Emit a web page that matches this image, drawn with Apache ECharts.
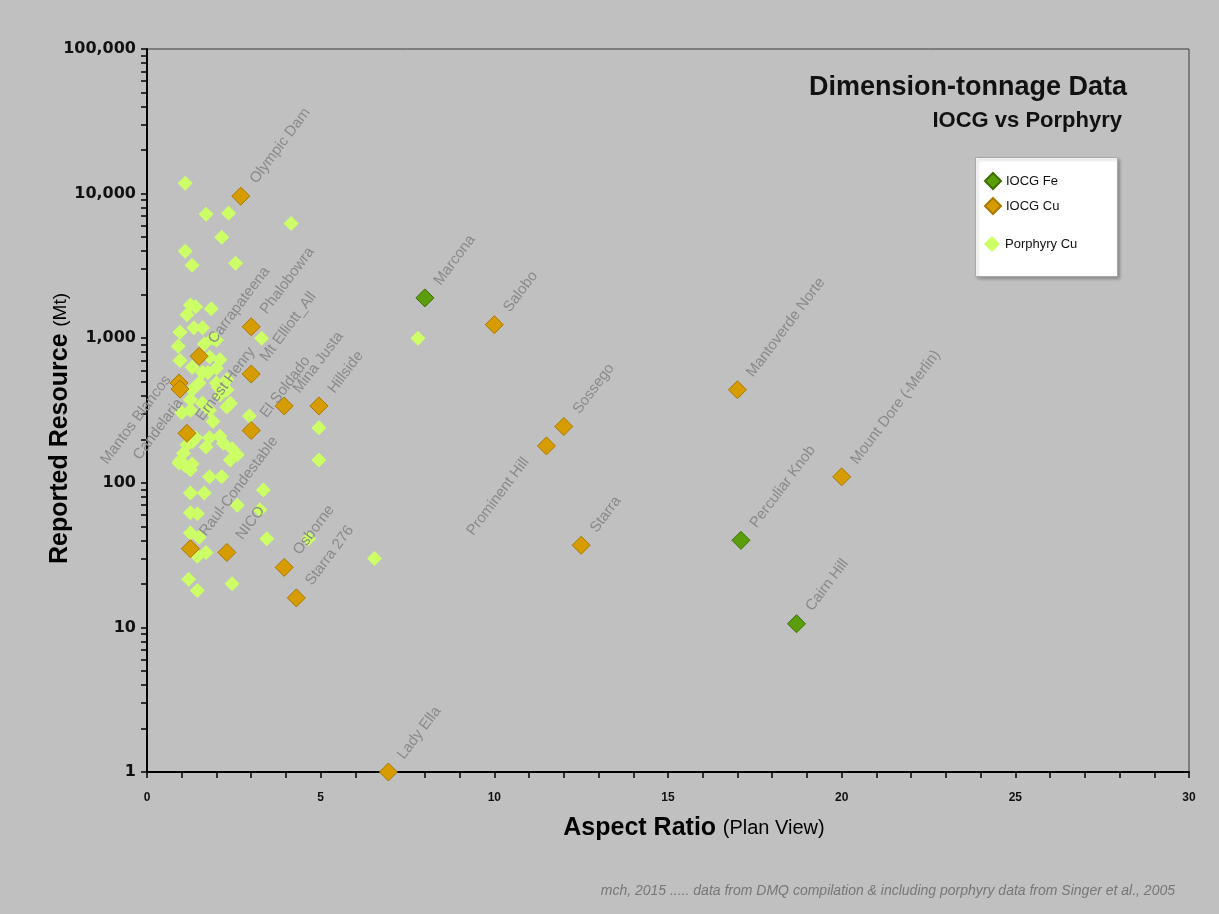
<!DOCTYPE html>
<html><head><meta charset="utf-8">
<script src="https://cdn.jsdelivr.net/npm/echarts@6/dist/echarts.min.js"></script>
<style>html,body{margin:0;padding:0;background:#c0c0c0}#c{width:1219px;height:914px}</style>
</head><body><div id="c"></div>
<script>
// ---- data ----
const xTickValues = [0,5,10,15,20,25,30];
const yTickValues = [1,10,100,1000,10000,100000];
const iocgFe = [[8,1900,'Marcona'],[17.1,40,'Perculiar Knob'],[18.7,10.6,'Cairn Hill']];
const iocgCu = [
  [2.7,9600,'Olympic Dam'],[3,1200,'Phalobowra'],[1.5,750,'Carrapateena'],[3,565,'Mt Elliott_All'],
  [0.92,490,'Mantos Blancos'],[0.95,445,'Candelaria'],[1.15,220,'Ernest Henry'],[3,230,'El Soldado'],
  [3.95,340,'Mina Justa'],[4.95,340,'Hillside'],[1.25,35,'Raul-Condestable'],[2.3,33,'NICO'],
  [3.95,26,'Osborne'],[4.3,16,'Starra 276'],[6.95,1,'Lady Ella'],[10,1240,'Salobo'],
  [11.5,180,'Prominent Hill'],[12,245,'Sossego'],[12.5,37,'Starra'],[17,440,'Mantoverde Norte'],
  [20,110,'Mount Dore (-Merlin)']
];
const leftLabelled = ['Prominent Hill','Mantos Blancos','Candelaria'];
const porphyryCu = [
  [1.1,11800],[1.7,7200],[2.35,7300],[4.15,6200],[2.15,5000],[1.1,4000],[1.3,3200],[2.55,3300],
  [1.25,1700],[1.15,1450],[1.4,1650],[1.85,1600],[0.95,1100],[1.35,1180],[1.6,1180],[1.9,1000],
  [3.3,1000],[7.8,1000],[0.9,880],[1.65,910],[2.0,970],[0.95,700],[1.8,740],[2.1,710],
  [1.3,630],[1.6,580],[2.0,620],[1.75,580],[1.5,490],[2.05,460],[2.3,440],[1.3,440],
  [2.3,515],[2.0,490],[1.25,375],[2.1,405],[2.4,355],[1.6,355],[1.0,305],[1.25,318],
  [1.8,318],[2.3,335],[1.9,265],[2.95,290],[1.4,205],[1.8,205],[2.1,210],[1.15,183],
  [1.7,177],[2.2,188],[2.45,172],[1.3,192],[1.05,160],[2.6,156],[0.95,142],[1.3,135],
  [2.4,144],[0.92,137],[1.1,131],[1.25,123],[1.8,110],[2.15,110],[1.25,85],[1.65,85],
  [3.35,89],[2.6,70],[3.25,65],[1.25,62],[1.45,61],[1.25,45],[1.5,42],[3.45,41],
  [4.65,41],[1.7,33],[1.45,31],[6.55,30],[1.2,21.5],[1.45,18],[2.45,20],[4.95,240],[4.95,144]
];
// ---- chart ----
const FONT = '"Liberation Sans", Arial, sans-serif';
const yMinor = [];
yTickValues.forEach(function(d, i){ if (i < yTickValues.length - 1) { for (let k = 1; k < 10; k++) yMinor.push(d * k); } else yMinor.push(d); });
const xMinor = [];
for (let v = xTickValues[0]; v <= xTickValues[xTickValues.length-1]; v++) xMinor.push(v);

function labelled(arr){
  return arr.map(function(p){
    const left = leftLabelled.indexOf(p[2]) >= 0;
    let off = left ? [-16, 1] : [12, -8];
    if (p[2] === 'Mantos Blancos') off = [5, -3];
    if (p[2] === 'Candelaria') off = [-2, 16];
    return {
      value: [p[0], p[1]], name: p[2],
      label: { show: true, formatter: p[2], position: left ? 'left' : 'right', distance: 2, rotate: 53,
        offset: off, color: '#8a8a8a', fontSize: 15, fontFamily: FONT }
    };
  });
}
const chart = echarts.init(document.getElementById('c'));
chart.setOption({
  backgroundColor: '#c0c0c0',
  animation: false,
  title: [
    { text: 'Dimension-tonnage Data', right: 87, top: 69, textStyle: { fontFamily: FONT, fontSize: 27, fontWeight: 'bold', color: '#111' } },
    { text: 'IOCG vs Porphyry', right: 92, top: 105, textStyle: { fontFamily: FONT, fontSize: 22, fontWeight: 'bold', color: '#111' } },
    { text: 'mch, 2015 ..... data from DMQ compilation & including porphyry data from Singer et al., 2005', right: 39, top: 879,
      textStyle: { fontFamily: FONT, fontSize: 14, fontStyle: 'italic', fontWeight: 'normal', color: '#777' } }
  ],
  graphic: [{ type: 'rect', left: 975, top: 157, shape: { width: 142, height: 119 }, z: 0,
    style: { fill: '#ffffff', stroke: '#a8a8a8', lineWidth: 1, shadowBlur: 3, shadowOffsetX: 2, shadowOffsetY: 2, shadowColor: 'rgba(0,0,0,0.25)' } }],
  legend: [
    { data: ['IOCG Fe', 'IOCG Cu'], orient: 'vertical', left: 979, top: 167, itemWidth: 16, itemHeight: 16, itemGap: 7, z: 5,
      textStyle: { fontFamily: FONT, fontSize: 13, color: '#111' } },
    { data: ['Porphyry Cu'], orient: 'vertical', left: 979, top: 231, itemWidth: 16, itemHeight: 16, z: 5,
      textStyle: { fontFamily: FONT, fontSize: 13, color: '#111' } }
  ],
  grid: { left: 147, right: 30, top: 49, bottom: 142, show: true, borderColor: '#3a3a3a', borderWidth: 1, backgroundColor: 'transparent' },
  xAxis: {
    type: 'value', min: 0, max: 30, interval: 5,
    axisLine: { lineStyle: { color: '#000', width: 2 } },
    axisTick: { show: true, length: 6, customValues: xMinor, lineStyle: { color: '#000', width: 1.5 } },
    axisLabel: { customValues: xTickValues, margin: 20, fontFamily: FONT, fontSize: 12, fontWeight: 'bold', color: '#111' },
    splitLine: { show: false },
    name: '{a|Aspect Ratio}  {b|(Plan View)}', nameLocation: 'middle', nameGap: 44, nameMoveOverlap: false,
    nameTextStyle: { padding: [0, 0, 0, 52], rich: { a: { fontFamily: FONT, fontSize: 25, fontWeight: 'bold', color: '#000' }, b: { fontFamily: FONT, fontSize: 20, color: '#000' } } }
  },
  yAxis: {
    type: 'log', logBase: 10, min: 1, max: 100000,
    axisLine: { lineStyle: { color: '#000', width: 2 } },
    axisTick: { show: true, length: 6, customValues: yMinor, lineStyle: { color: '#000', width: 1.5 } },
    axisLabel: { customValues: yTickValues, margin: 11, fontFamily: '"DejaVu Sans", sans-serif', fontSize: 16, fontWeight: 'bold', color: '#111',
      formatter: function(v){ return Number(v).toLocaleString('en-US'); } },
    splitLine: { show: false },
    name: '{a|Reported Resource}  {b|(Mt)}', nameLocation: 'middle', nameGap: 74, nameRotate: 90, nameMoveOverlap: false,
    nameTextStyle: { padding: [0, 36, 0, 0], rich: { a: { fontFamily: FONT, fontSize: 25, fontWeight: 'bold', color: '#000' }, b: { fontFamily: FONT, fontSize: 19, color: '#000' } } }
  },
  series: [
    { name: 'Porphyry Cu', type: 'scatter', symbol: 'diamond', symbolSize: 15, clip: false, z: 2,
      itemStyle: { color: '#ccff66', opacity: 1 }, data: porphyryCu },
    { name: 'IOCG Cu', type: 'scatter', symbol: 'diamond', symbolSize: 18, clip: false, z: 3,
      itemStyle: { color: '#d69c00', borderColor: '#a87a00', borderWidth: 1, opacity: 1 }, data: labelled(iocgCu) },
    { name: 'IOCG Fe', type: 'scatter', symbol: 'diamond', symbolSize: 18, clip: false, z: 3,
      itemStyle: { color: '#5a9e0c', borderColor: '#3c6e00', borderWidth: 1, opacity: 1 }, data: labelled(iocgFe) }
  ]
});
</script></body></html>
